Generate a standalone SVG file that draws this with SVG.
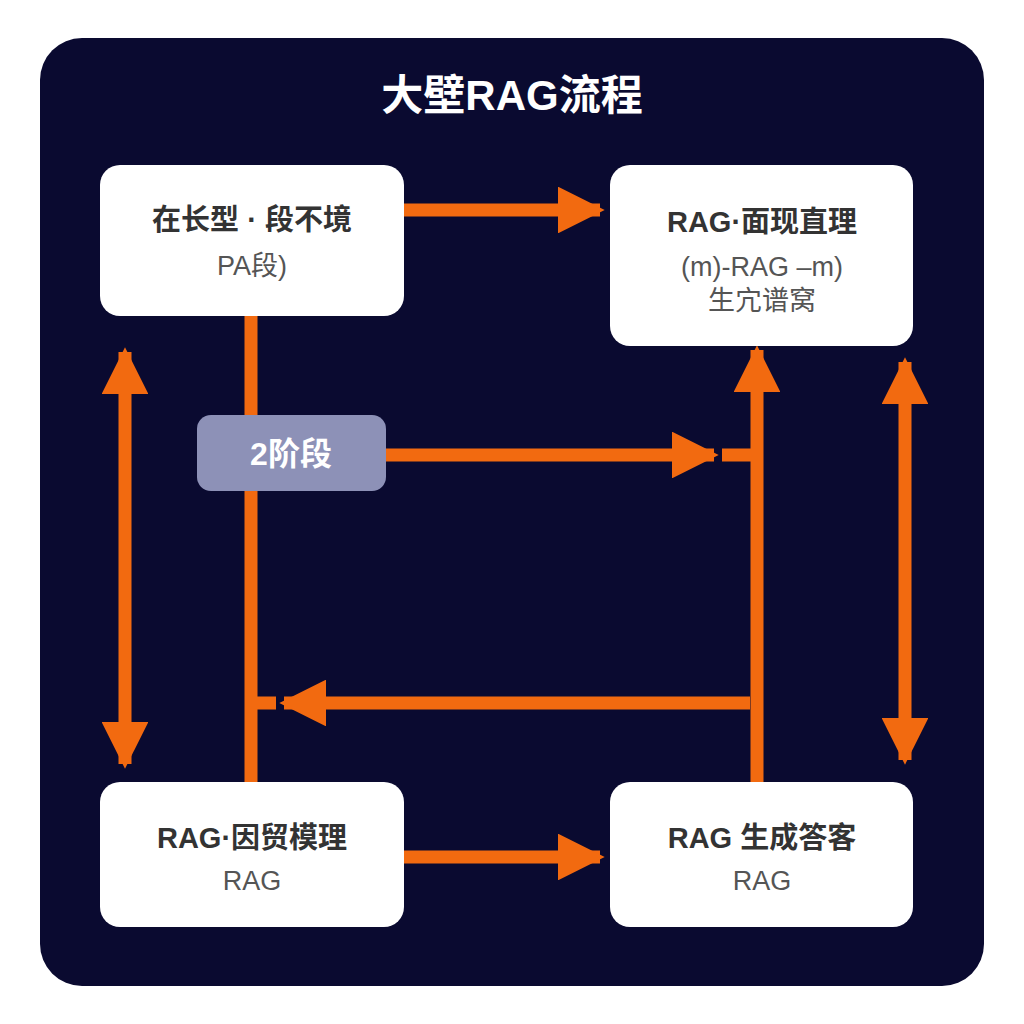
<svg xmlns="http://www.w3.org/2000/svg" width="1024" height="1024" viewBox="0 0 1024 1024">
<style>
.box{fill:#ffffff}
.ln{stroke:#f26a10;stroke-width:13;fill:none}
.t1{font-family:"Liberation Sans","Noto Sans CJK SC",sans-serif;font-size:29px;font-weight:bold;fill:#333;text-anchor:middle}
.t2{font-family:"Liberation Sans","Noto Sans CJK SC",sans-serif;font-size:27px;fill:#555;text-anchor:middle}
</style>
<defs>
<marker id="ah" viewBox="0 0 10 10" refX="9" refY="5" markerWidth="3.6" markerHeight="3.6" orient="auto-start-reverse" markerUnits="strokeWidth">
<path d="M0,0 L10,5 L0,10 z" fill="#f26a10"/>
</marker>
</defs>
<rect width="1024" height="1024" fill="#ffffff"/>
<rect x="40" y="38" width="944" height="948" rx="42" fill="#0a0a30"/>
<text x="512" y="110" font-family="Liberation Sans,Noto Sans CJK SC,sans-serif" font-size="42" font-weight="bold" fill="#fff" text-anchor="middle">大壁RAG流程</text>
<g id="connectors">
<line class="ln" x1="404" y1="210" x2="600" y2="210" marker-end="url(#ah)"/>
<line class="ln" x1="251" y1="316" x2="251" y2="782"/>
<line class="ln" x1="386" y1="455" x2="714" y2="455" marker-end="url(#ah)"/>
<line class="ln" x1="722" y1="455" x2="757" y2="455"/>
<line class="ln" x1="757" y1="782" x2="757" y2="350" marker-end="url(#ah)"/>
<line class="ln" x1="750" y1="703" x2="284" y2="703" marker-end="url(#ah)"/>
<line class="ln" x1="251" y1="703" x2="276" y2="703"/>
<line class="ln" x1="125" y1="352" x2="125" y2="764" marker-start="url(#ah)" marker-end="url(#ah)"/>
<line class="ln" x1="905" y1="362" x2="905" y2="760" marker-start="url(#ah)" marker-end="url(#ah)"/>
<line class="ln" x1="404" y1="857" x2="600" y2="857" marker-end="url(#ah)"/>
</g>
<g id="n1"><rect class="box" x="100" y="165" width="304" height="151" rx="20"/>
<text class="t1" x="252" y="230">在长型 · 段不境</text><text class="t2" x="252" y="275">PA段)</text></g>
<g id="n2"><rect class="box" x="610" y="165" width="303" height="181" rx="20"/>
<text class="t1" x="762" y="232">RAG·面现直理</text><text class="t2" x="762" y="276">(m)-RAG –m)</text><text class="t2" x="762" y="310">生宂谱窝</text></g>
<g id="n3"><rect x="197" y="415" width="189" height="76" rx="14" fill="#8d91b7"/>
<text x="291" y="465" font-family="Liberation Sans,Noto Sans CJK SC,sans-serif" font-size="32" font-weight="bold" fill="#fff" text-anchor="middle">2阶段</text></g>
<g id="n4"><rect class="box" x="100" y="782" width="304" height="145" rx="20"/>
<text class="t1" x="252" y="848">RAG·因贸模理</text><text class="t2" x="252" y="890">RAG</text></g>
<g id="n5"><rect class="box" x="610" y="782" width="303" height="145" rx="20"/>
<text class="t1" x="762" y="848">RAG  生成答客</text><text class="t2" x="762" y="890">RAG</text></g>
</svg>
